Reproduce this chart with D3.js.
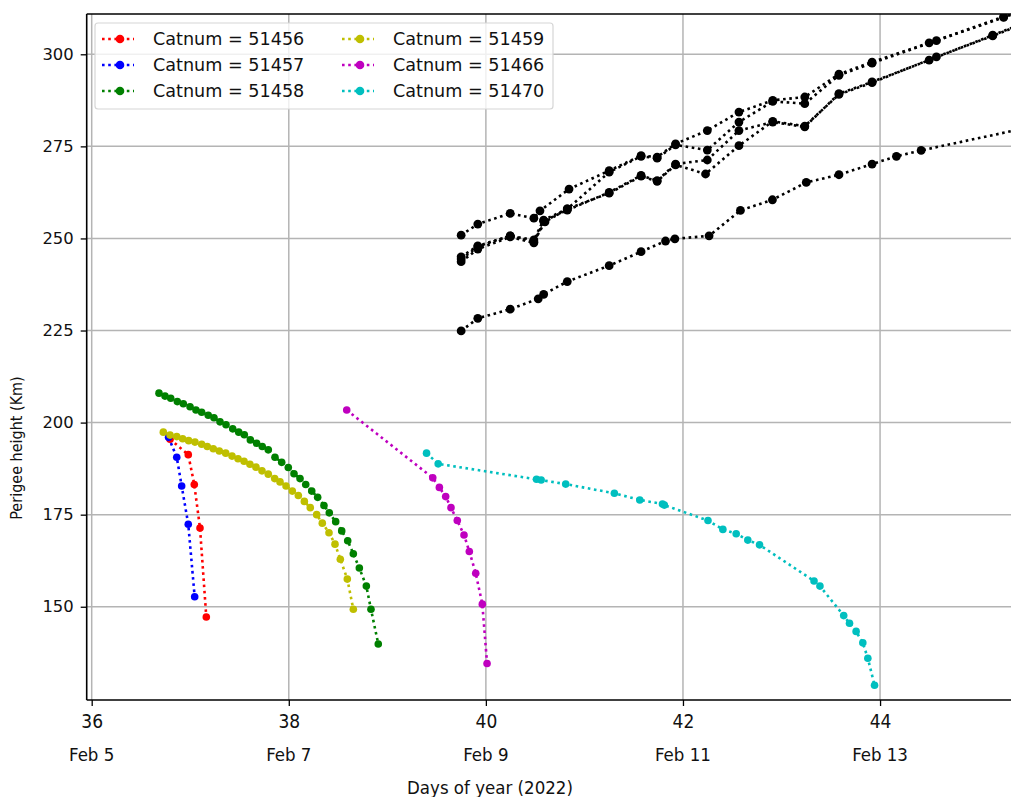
<!DOCTYPE html>
<html>
<head>
<meta charset="utf-8">
<script src="https://cdn.jsdelivr.net/npm/d3@7"></script>
<style>
  html, body { margin: 0; padding: 0; background: #fff; overflow: hidden; }
  svg { display: block; }
</style>
</head>
<body>
<svg id="chart" width="1011" height="797"></svg>
<script>
// Axis ticks and labels
const xTicks = [36, 38, 40, 42, 44];
const dateLabels = ["Feb 5", "Feb 7", "Feb 9", "Feb 11", "Feb 13"];
const yTicks = [150, 175, 200, 225, 250, 275, 300];

// Tracked objects: day of year (2022) and perigee height (km)
const days51456 = [36.795, 36.980, 37.041, 37.099, 37.163];
const peri51456 = [195.5, 191.3, 183.2, 171.4, 147.2];

const days51457 = [36.780, 36.863, 36.913, 36.980, 37.045];
const peri51457 = [196.0, 190.6, 182.8, 172.4, 152.7];

const days51458 = [36.683, 36.744, 36.802, 36.869, 36.930, 36.998, 37.058, 37.116, 37.183, 37.241,
                   37.302, 37.363, 37.431, 37.492, 37.549, 37.610, 37.674, 37.731, 37.792, 37.860,
                   37.928, 37.995, 38.053, 38.114, 38.172, 38.233, 38.293, 38.357, 38.411, 38.476,
                   38.537, 38.598, 38.655, 38.716, 38.787, 38.834, 38.908];
const peri51458 = [208.0, 207.2, 206.6, 205.7, 205.1, 204.3, 203.4, 202.8, 202.0, 201.3,
                   200.2, 199.4, 198.3, 197.4, 196.7, 195.3, 194.4, 193.5, 192.6, 190.6,
                   189.2, 187.8, 186.1, 184.8, 183.2, 181.4, 179.7, 177.5, 175.5, 173.1,
                   170.6, 167.9, 164.4, 160.5, 155.6, 149.3, 139.9];

const days51459 = [36.727, 36.795, 36.863, 36.923, 36.984, 37.048, 37.116, 37.173, 37.234, 37.295,
                   37.360, 37.424, 37.485, 37.546, 37.606, 37.667, 37.728, 37.792, 37.857, 37.911,
                   37.972, 38.036, 38.097, 38.158, 38.218, 38.283, 38.340, 38.408, 38.469, 38.523,
                   38.594, 38.655];
const peri51459 = [197.4, 196.6, 196.2, 195.6, 195.1, 194.7, 194.1, 193.5, 192.9, 192.3,
                   191.7, 190.9, 190.2, 189.5, 188.7, 187.9, 186.9, 186.0, 184.8, 183.9,
                   182.8, 181.4, 180.2, 178.6, 176.9, 175.0, 172.7, 170.1, 167.0, 162.9,
                   157.5, 149.3];

const days51466 = [38.588, 39.461, 39.528, 39.592, 39.646, 39.710, 39.778, 39.832, 39.897, 39.964, 40.012];
const peri51466 = [203.4, 185.0, 182.4, 179.9, 176.9, 173.4, 169.5, 165.0, 159.1, 150.7, 134.6];

const days51470 = [39.398, 39.516, 40.514, 40.561, 40.810, 41.304, 41.562, 41.792, 41.811, 42.254,
                   42.405, 42.540, 42.658, 42.777, 43.330, 43.390, 43.631, 43.690, 43.757, 43.825,
                   43.876, 43.944];
const peri51470 = [191.7, 188.8, 184.6, 184.4, 183.3, 180.8, 179.0, 177.9, 177.6, 173.4,
                   171.0, 169.8, 168.1, 166.8, 157.0, 155.6, 147.6, 145.5, 143.3, 140.2,
                   136.0, 128.7];

// Other objects of the launch (unlabelled, drawn in black)
const daysOtherA = [39.749, 39.918, 40.247, 40.487, 40.549, 40.844, 41.251, 41.575, 41.738, 41.925,
                    42.247, 42.568, 42.911, 43.236, 43.583, 43.919, 44.498, 45.254, 45.522];
const periOtherA = [250.9, 253.9, 256.8, 255.5, 257.5, 263.4, 268.4, 272.5, 272.1, 275.7,
                    279.3, 284.3, 287.5, 288.4, 294.6, 297.9, 303.1, 310.2, 312.8];

const daysOtherB = [39.749, 39.918, 40.247, 40.487, 40.586, 40.826, 41.251, 41.575, 41.738, 41.925,
                    42.247, 42.568, 42.911, 43.236, 43.583, 43.919, 44.572, 45.254, 45.522];
const periOtherB = [245.0, 248.0, 250.7, 249.6, 255.0, 258.0, 268.0, 272.3, 271.8, 275.4,
                    274.0, 281.6, 287.2, 286.6, 294.3, 297.6, 303.7, 310.0, 312.6];

const daysOtherC = [39.749, 39.918, 40.247, 40.487, 40.586, 40.826, 41.251, 41.575, 41.738, 41.925,
                    42.247, 42.568, 42.911, 43.236, 43.583, 43.919, 44.498, 45.143, 45.522];
const periOtherC = [243.7, 247.1, 250.4, 248.8, 254.7, 257.7, 262.5, 267.1, 265.7, 270.2,
                    271.3, 279.3, 281.6, 280.3, 289.3, 292.5, 298.4, 305.2, 309.1];

const daysOtherD = [39.749, 39.918, 40.247, 40.487, 40.600, 40.826, 41.251, 41.575, 41.738, 41.925,
                    42.229, 42.568, 42.911, 43.236, 43.583, 43.919, 44.572, 45.143, 45.522];
const periOtherD = [244.4, 247.7, 250.7, 249.1, 254.5, 258.0, 262.3, 266.9, 265.5, 270.0,
                    267.5, 275.2, 281.8, 280.5, 289.1, 292.3, 299.3, 305.0, 309.0];

const daysOtherE = [39.749, 39.918, 40.247, 40.531, 40.586, 40.826, 41.251, 41.575, 41.823, 41.918,
                    42.265, 42.583, 42.908, 43.251, 43.583, 43.919, 44.166, 44.417, 45.624];
const periOtherE = [224.9, 228.3, 230.8, 233.6, 234.8, 238.3, 242.6, 246.4, 249.3, 249.9,
                    250.7, 257.6, 260.5, 265.2, 267.3, 270.2, 272.3, 273.9, 280.8];

const labelled = [
  { name: "Catnum = 51456", color: "#ff0000", days: days51456, peri: peri51456 },
  { name: "Catnum = 51457", color: "#0000ff", days: days51457, peri: peri51457 },
  { name: "Catnum = 51458", color: "#008000", days: days51458, peri: peri51458 },
  { name: "Catnum = 51459", color: "#bfbf00", days: days51459, peri: peri51459 },
  { name: "Catnum = 51466", color: "#bf00bf", days: days51466, peri: peri51466 },
  { name: "Catnum = 51470", color: "#00bfbf", days: days51470, peri: peri51470 }
];
const others = [
  { days: daysOtherA, peri: periOtherA },
  { days: daysOtherB, peri: periOtherB },
  { days: daysOtherC, peri: periOtherC },
  { days: daysOtherD, peri: periOtherD },
  { days: daysOtherE, peri: periOtherE }
];

// ---- layout ----
const W = 1011, H = 797;
const plot = { left: 86.7, top: 14, right: 1040, bottom: 700 };

const x = d3.scaleLinear().domain([35.9493, 45.623]).range([plot.left, plot.right]);
const y = d3.scaleLinear().domain([124.68, 310.94]).range([plot.bottom, plot.top]);

const svg = d3.select("#chart");
svg.append("rect").attr("width", W).attr("height", H).attr("fill", "#fff");

svg.append("defs").append("clipPath").attr("id", "plotClip")
  .append("rect")
  .attr("x", plot.left).attr("y", plot.top)
  .attr("width", plot.right - plot.left).attr("height", plot.bottom - plot.top);

// grid
const grid = svg.append("g").attr("stroke", "#b4b4b4").attr("stroke-width", 1.5);
grid.selectAll("line.gx").data(xTicks).join("line")
  .attr("x1", d => x(d)).attr("x2", d => x(d))
  .attr("y1", plot.top).attr("y2", plot.bottom);
grid.selectAll("line.gy").data(yTicks).join("line")
  .attr("x1", plot.left).attr("x2", plot.right)
  .attr("y1", d => y(d)).attr("y2", d => y(d));

// data
const dataG = svg.append("g").attr("clip-path", "url(#plotClip)");
const lineGen = d3.line().x(d => x(d[0])).y(d => y(d[1]));
const DASH = "2.6,3.6";

function drawSeries(days, peri, color, r) {
  const pts = days.map((d, i) => [d, peri[i]]);
  dataG.append("path")
    .attr("d", lineGen(pts))
    .attr("fill", "none")
    .attr("stroke", color)
    .attr("stroke-width", 2.6)
    .attr("stroke-dasharray", DASH);
  dataG.append("g").selectAll("circle").data(pts).join("circle")
    .attr("cx", d => x(d[0])).attr("cy", d => y(d[1]))
    .attr("r", r).attr("fill", color);
}

others.forEach(s => drawSeries(s.days, s.peri, "#000", 4.4));
labelled.forEach(s => drawSeries(s.days, s.peri, s.color, 3.8));

// axes
const axisFont = "'DejaVu Sans', sans-serif";
const narrowFont = "'Liberation Sans Narrow', 'DejaVu Sans Condensed', 'Liberation Sans', sans-serif";

const yAxis = d3.axisLeft(y).tickValues(yTicks).tickSize(6).tickPadding(7).tickFormat(d3.format("d"));
const yg = svg.append("g").attr("transform", `translate(${plot.left},0)`).call(yAxis);
yg.select(".domain").remove();
yg.selectAll("line").attr("stroke", "#000").attr("stroke-width", 1.3);
yg.selectAll("text").attr("font-family", axisFont).attr("font-size", 16.4).attr("fill", "#111");

const xAxis = d3.axisBottom(x).tickValues(xTicks).tickSize(6).tickPadding(9).tickFormat(d3.format("d"));
const xg = svg.append("g").attr("transform", `translate(0,${plot.bottom})`).call(xAxis);
xg.select(".domain").remove();
xg.selectAll("line").attr("stroke", "#000").attr("stroke-width", 1.3);
xg.selectAll("text").attr("font-family", narrowFont).attr("font-size", 19).attr("fill", "#111");

// calendar date row under day numbers
svg.append("g").selectAll("text").data(xTicks).join("text")
  .attr("x", d => x(d))
  .attr("y", 761)
  .attr("text-anchor", "middle")
  .attr("font-family", narrowFont)
  .attr("font-size", 18.5)
  .attr("fill", "#111")
  .text((d, i) => dateLabels[i]);

// axis titles
svg.append("text")
  .attr("x", 490).attr("y", 794)
  .attr("text-anchor", "middle")
  .attr("font-family", narrowFont)
  .attr("font-size", 18.5)
  .attr("fill", "#111")
  .text("Days of year (2022)");

svg.append("text")
  .attr("transform", "translate(22,448) rotate(-90)")
  .attr("text-anchor", "middle")
  .attr("font-family", narrowFont)
  .attr("font-size", 16)
  .attr("fill", "#111")
  .text("Perigee height (Km)");

// spines
const spines = svg.append("g").attr("stroke", "#000").attr("stroke-width", 1.6).attr("fill", "none");
spines.append("line").attr("x1", plot.left).attr("x2", plot.left).attr("y1", plot.top).attr("y2", plot.bottom);
spines.append("line").attr("x1", plot.left).attr("x2", W).attr("y1", plot.bottom).attr("y2", plot.bottom);
spines.append("line").attr("x1", plot.left).attr("x2", W).attr("y1", plot.top).attr("y2", plot.top);

// legend
const leg = svg.append("g");
leg.append("rect")
  .attr("x", 95).attr("y", 23).attr("width", 458).attr("height", 86)
  .attr("rx", 3)
  .attr("fill", "rgba(255,255,255,0.8)")
  .attr("stroke", "#d6d6d6").attr("stroke-width", 1.2);

const legItems = leg.selectAll("g.item").data(labelled).join("g")
  .attr("transform", (d, i) => `translate(${i < 3 ? 102 : 342},${39 + (i % 3) * 26})`);
legItems.append("line")
  .attr("x1", 0).attr("x2", 32).attr("y1", 0).attr("y2", 0)
  .attr("stroke", d => d.color).attr("stroke-width", 2.6)
  .attr("stroke-dasharray", DASH);
legItems.append("circle").attr("cx", 18).attr("cy", 0).attr("r", 4.3).attr("fill", d => d.color);
legItems.append("text")
  .attr("x", 51).attr("y", 0).attr("dy", "0.36em")
  .attr("font-family", axisFont).attr("font-size", 17.6).attr("fill", "#111")
  .text(d => d.name);
</script>
</body>
</html>
